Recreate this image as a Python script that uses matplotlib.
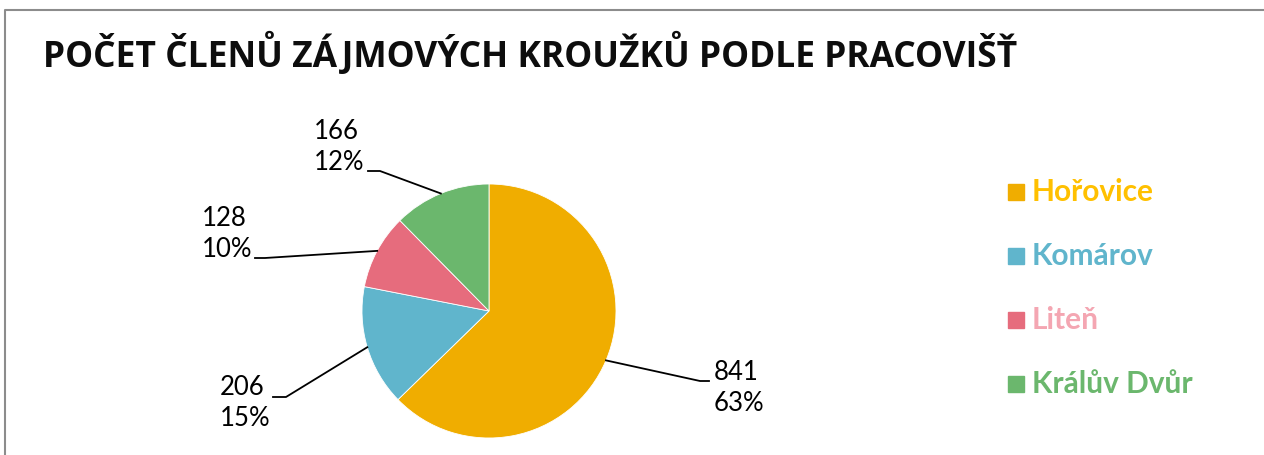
import numpy as np
import matplotlib
matplotlib.use("Agg")
import matplotlib.pyplot as plt
from matplotlib.patches import Rectangle

# data
categories = ["Hořovice", "Komárov", "Liteň", "Králův Dvůr"]
counts = [841, 206, 128, 166]
title = "POČET ČLENŮ ZÁJMOVÝCH KROUŽKŮ PODLE PRACOVIŠŤ"

wedge_colors = ["#F0AD00", "#60B5CC", "#E66C7D", "#6BB76D"]
legend_text_colors = ["#FFC000", "#60B5CC", "#F4A6B2", "#6BB76D"]

W, H = 1264, 455
fig = plt.figure(figsize=(W / 100, H / 100), dpi=100)
ax = fig.add_axes([0, 0, 1, 1])

cx, cy, r = 489, H - 311, 127
wedges, _ = ax.pie(counts, colors=wedge_colors, startangle=90, counterclock=False,
                   center=(cx, cy), radius=r, frame=True,
                   wedgeprops=dict(linewidth=0.6, edgecolor="white"))
ax.set_xlim(0, W)
ax.set_ylim(0, H)
ax.set_aspect("equal")
ax.axis("off")

# frame (left + top, as in the screenshot)
ax.plot([4.5, 4.5, W], [0, H - 9.5, H - 9.5], color="#8C8C8C", lw=1.5,
        solid_capstyle="butt")

ax.text(43, H - 67, title, fontsize=25.5, fontweight="bold", family="Open Sans",
        color="#0D0D0D", ha="left", va="baseline")

total = sum(counts)
# label layout (pixels from top): elbow x, elbow y, end x, text x, text centre y, ha
label_layout = [
    (700, 381, 709, 714, 388, "left"),
    (286, 397, 273, 270, 403, "right"),
    (265, 258, 255, 252, 234, "right"),
    (380, 171, 368, 364, 147, "right"),
]
for w, n, (ex, ey, endx, tx, ty, ha) in zip(wedges, counts, label_layout):
    mid = np.deg2rad((w.theta1 + w.theta2) / 2)
    px, py = cx + r * np.cos(mid), cy + r * np.sin(mid)
    ax.plot([px, ex, endx], [py, H - ey, H - ey], color="black", lw=1.3)
    pct = round(100 * n / total)
    ax.text(tx, H - ty, f"{n}\n{pct}%", fontsize=18.5, family="Lato",
            ha=ha, va="center", multialignment="left",
            linespacing=1.3, color="black")

# manual legend
for i, (cat, c, tc) in enumerate(zip(categories, wedge_colors, legend_text_colors)):
    yc = H - (192 + 64 * i)
    ax.add_patch(Rectangle((1008, yc - 8), 16, 16, color=c))
    ax.text(1032, yc, cat, fontsize=21.5, fontweight="bold", family="Lato",
            color=tc, ha="left", va="center")

fig.savefig("out.png", dpi=100)
